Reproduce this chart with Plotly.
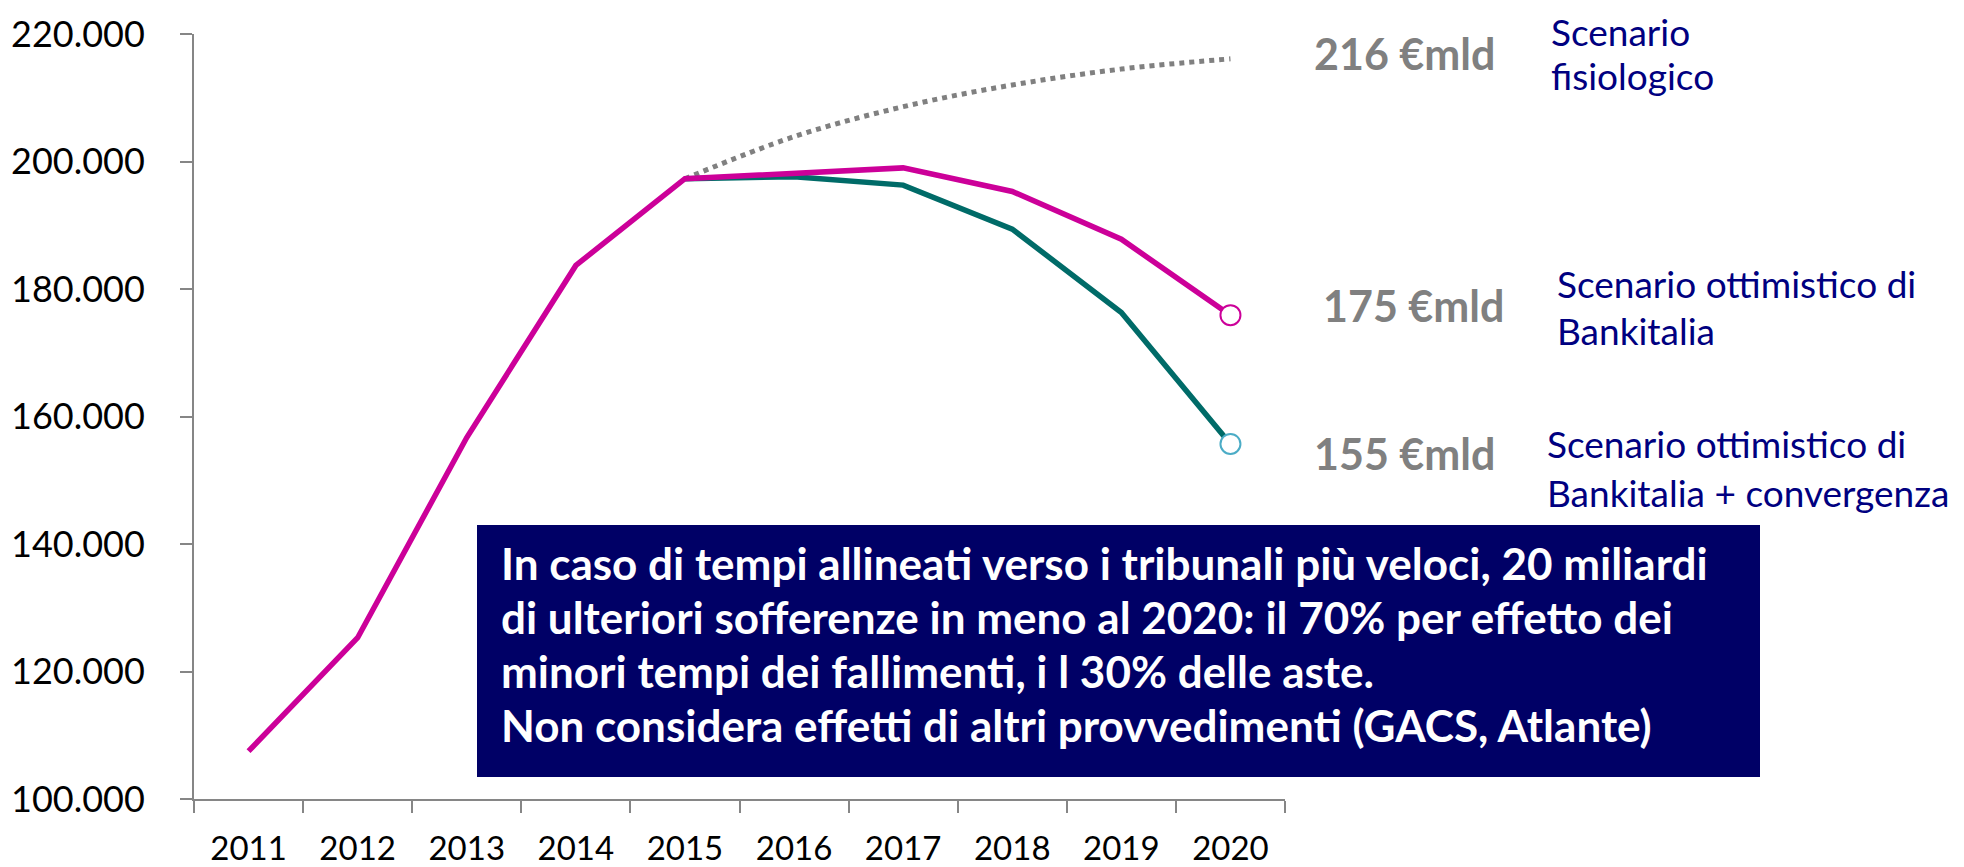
import plotly.graph_objects as go

years = ["2011", "2012", "2013", "2014", "2015", "2016", "2017", "2018", "2019", "2020"]
bankitalia = [107500, 125300, 156700, 183700, 197300, 198200, 199000, 195300, 187800, 175900]
convergenza_years = ["2015", "2016", "2017", "2018", "2019", "2020"]
convergenza = [197300, 197600, 196300, 189400, 176300, 155700]
fisiologico_years = ["2015", "2016", "2017", "2018", "2019", "2020"]
fisiologico = [197300, 203900, 208600, 212000, 214500, 216100]
y_ticks = [100000, 120000, 140000, 160000, 180000, 200000, 220000]
y_tick_labels = ["100.000", "120.000", "140.000", "160.000", "180.000", "200.000", "220.000"]
value_labels = ["216 €mld", "175 €mld", "155 €mld"]
scenario_labels = [["Scenario", "fisiologico"],
                   ["Scenario ottimistico di", "Bankitalia"],
                   ["Scenario ottimistico di", "Bankitalia + convergenza"]]
box_lines = [
    "In caso di tempi allineati verso i tribunali più veloci, 20 miliardi",
    "di ulteriori sofferenze in meno al 2020: il 70% per effetto dei",
    "minori tempi dei fallimenti, i l 30% delle aste.",
    "Non considera effetti di altri provvedimenti (GACS, Atlante)",
]

MAGENTA = "#CC0099"
TEAL = "#006B68"
GRAY = "#808080"
NAVY = "#000066"
LABEL_NAVY = "#000080"
FONT = "Lato"

# page body has an 8px margin; figure is sized to fit the window
OFF = 8
W, H = 1964 - OFF, 867 - OFF
PLOT_L, PLOT_R, PLOT_T, PLOT_B = 194, 1285, 34, 799  # screen pixels
L, T = PLOT_L - OFF, PLOT_T - OFF
pw, ph = PLOT_R - PLOT_L, PLOT_B - PLOT_T
R, B = W - L - pw, H - T - ph

def px(x):
    return (x - PLOT_L) / pw

def py(y):
    return (PLOT_B - y) / ph

fig = go.Figure()
fig.add_trace(go.Scatter(x=fisiologico_years, y=fisiologico, mode="lines",
                         line=dict(color=GRAY, width=5, dash="dot", shape="spline"),
                         hoverinfo="skip"))
fig.add_trace(go.Scatter(x=convergenza_years, y=convergenza, mode="lines",
                         line=dict(color=TEAL, width=5.5), hoverinfo="skip"))
fig.add_trace(go.Scatter(x=years, y=bankitalia, mode="lines",
                         line=dict(color=MAGENTA, width=5.5), hoverinfo="skip"))
fig.add_trace(go.Scatter(x=[years[-1]], y=[bankitalia[-1]], mode="markers",
                         marker=dict(symbol="circle", size=20, color="white",
                                     line=dict(color=MAGENTA, width=2)), hoverinfo="skip"))
fig.add_trace(go.Scatter(x=[convergenza_years[-1]], y=[convergenza[-1]], mode="markers",
                         marker=dict(symbol="circle", size=20, color="white",
                                     line=dict(color="#4BACC6", width=2)), hoverinfo="skip"))

shapes = [dict(type="rect", xref="paper", yref="paper",
               x0=px(477), x1=px(1760), y0=py(777), y1=py(525),
               fillcolor=NAVY, line=dict(width=0), layer="above")]

annotations = []
for i, line in enumerate(box_lines):
    annotations.append(dict(xref="paper", yref="paper", x=px(499), y=py(563 + i * 54),
                            xanchor="left", yanchor="middle", text=line, showarrow=False,
                            font=dict(family=FONT, size=44, color="white", weight="bold")))

value_pos = [(1404, 53), (1413, 306), (1404, 453)]
for (x, y), t in zip(value_pos, value_labels):
    annotations.append(dict(xref="paper", yref="paper", x=px(x), y=py(y),
                            xanchor="center", yanchor="middle", text=t, showarrow=False,
                            font=dict(family=FONT, size=43, color=GRAY, weight="bold")))

scen_pos = [(1549, 31, 44), (1555, 283, 48), (1545, 443, 49)]
for (x, y, dy), lines in zip(scen_pos, scenario_labels):
    for j, t in enumerate(lines):
        annotations.append(dict(xref="paper", yref="paper", x=px(x), y=py(y + j * dy),
                                xanchor="left", yanchor="middle", text=t, showarrow=False,
                                font=dict(family=FONT, size=37, color=LABEL_NAVY)))

fig.update_layout(
    width=W, height=H,
    margin=dict(l=L, r=R, t=T, b=B, autoexpand=False),
    paper_bgcolor="white", plot_bgcolor="white",
    showlegend=False,
    shapes=shapes, annotations=annotations,
    font=dict(family=FONT, size=34, color="black"),
)
fig.update_xaxes(type="category", categoryorder="array", categoryarray=years,
                 range=[-0.5, 9.5], showgrid=False, showline=True, linecolor="#868686",
                 linewidth=2, ticks="outside", tickson="boundaries", ticklen=12,
                 tickcolor="#868686", tickwidth=2, ticklabelstandoff=19, automargin=False,
                 tickfont=dict(family=FONT, size=33, color="black"), zeroline=False)
fig.update_yaxes(range=[100000, 220000], tickvals=y_ticks, ticktext=y_tick_labels,
                 showgrid=False, showline=True, linecolor="#868686", linewidth=2,
                 ticks="outside", ticklen=12, tickcolor="#868686", tickwidth=2,
                 ticklabelstandoff=28, automargin=False,
                 tickfont=dict(family=FONT, size=36, color="black"), zeroline=False)

fig.write_html("out.html")
